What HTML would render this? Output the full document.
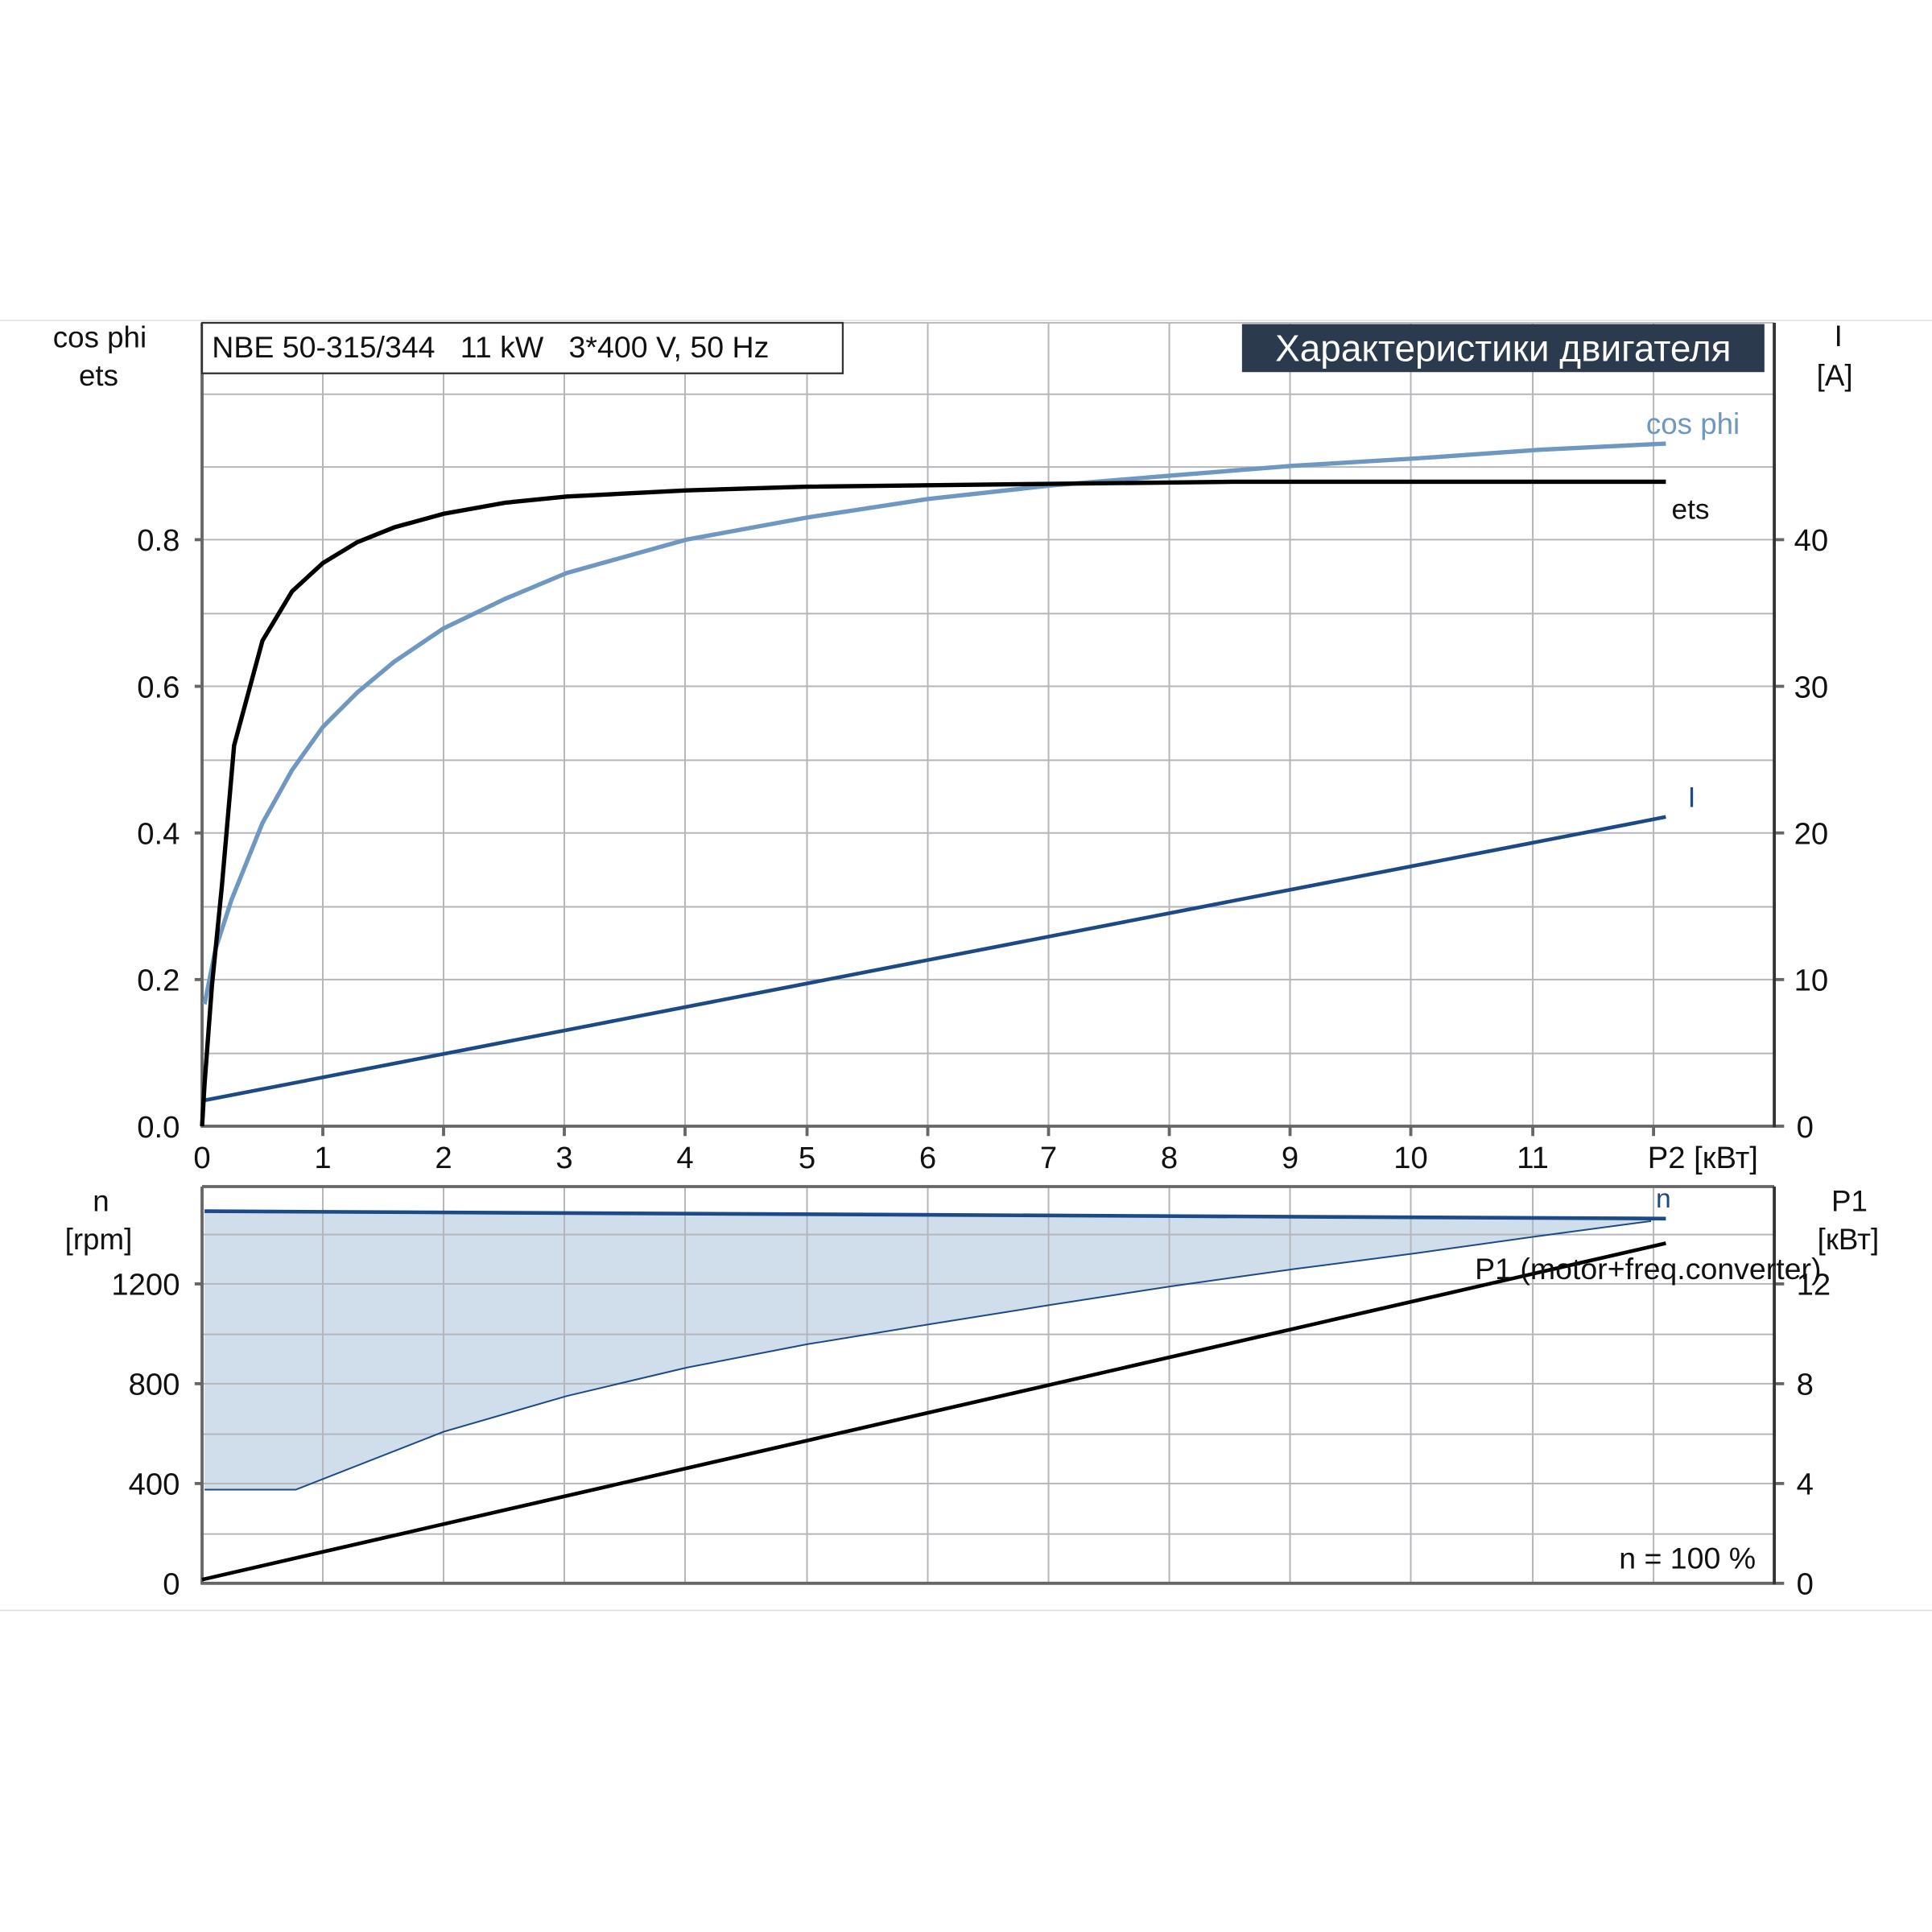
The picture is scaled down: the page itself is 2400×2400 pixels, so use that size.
<!DOCTYPE html>
<html><head><meta charset="utf-8"><style>html,body{margin:0;padding:0;background:#fff}svg{display:block}text{white-space:pre}</style></head><body>
<svg width="2400" height="2400" viewBox="0 0 1568 1568" xmlns="http://www.w3.org/2000/svg" font-family="Liberation Sans, DejaVu Sans, sans-serif" xml:space="preserve">
<rect width="1568" height="1568" fill="#fff"/>
<line x1="0" y1="260" x2="1568" y2="260" stroke="#ddd" stroke-width="1"/>
<line x1="0" y1="1307" x2="1568" y2="1307" stroke="#ddd" stroke-width="1"/>
<g stroke="#b4b6bc" stroke-width="1.3">
<line x1="262" y1="262" x2="262" y2="914"/><line x1="360" y1="262" x2="360" y2="914"/><line x1="458" y1="262" x2="458" y2="914"/><line x1="556" y1="262" x2="556" y2="914"/><line x1="655" y1="262" x2="655" y2="914"/><line x1="753" y1="262" x2="753" y2="914"/><line x1="851" y1="262" x2="851" y2="914"/><line x1="949" y1="262" x2="949" y2="914"/><line x1="1047" y1="262" x2="1047" y2="914"/><line x1="1145" y1="262" x2="1145" y2="914"/><line x1="1244" y1="262" x2="1244" y2="914"/><line x1="1342" y1="262" x2="1342" y2="914"/>
<line x1="164" y1="855" x2="1440" y2="855"/><line x1="164" y1="795" x2="1440" y2="795"/><line x1="164" y1="736" x2="1440" y2="736"/><line x1="164" y1="676" x2="1440" y2="676"/><line x1="164" y1="617" x2="1440" y2="617"/><line x1="164" y1="557" x2="1440" y2="557"/><line x1="164" y1="498" x2="1440" y2="498"/><line x1="164" y1="438" x2="1440" y2="438"/><line x1="164" y1="379" x2="1440" y2="379"/><line x1="164" y1="320" x2="1440" y2="320"/>
</g>
<line x1="164" y1="262" x2="1440" y2="262" stroke="#bbb" stroke-width="1.3"/>
<g stroke="#666" stroke-width="2.5">
<line x1="164" y1="262" x2="164" y2="915"/><line x1="163" y1="914" x2="1440" y2="914"/>
<line x1="158" y1="438" x2="164" y2="438"/><line x1="158" y1="557" x2="164" y2="557"/><line x1="158" y1="676" x2="164" y2="676"/><line x1="158" y1="795" x2="164" y2="795"/>
<line x1="262" y1="914" x2="262" y2="922"/><line x1="360" y1="914" x2="360" y2="922"/><line x1="458" y1="914" x2="458" y2="922"/><line x1="556" y1="914" x2="556" y2="922"/><line x1="655" y1="914" x2="655" y2="922"/><line x1="753" y1="914" x2="753" y2="922"/><line x1="851" y1="914" x2="851" y2="922"/><line x1="949" y1="914" x2="949" y2="922"/><line x1="1047" y1="914" x2="1047" y2="922"/><line x1="1145" y1="914" x2="1145" y2="922"/><line x1="1244" y1="914" x2="1244" y2="922"/><line x1="1342" y1="914" x2="1342" y2="922"/>
<line x1="1440" y1="438" x2="1448" y2="438"/><line x1="1440" y1="557" x2="1448" y2="557"/><line x1="1440" y1="676" x2="1448" y2="676"/><line x1="1440" y1="795" x2="1448" y2="795"/><line x1="1440" y1="914" x2="1448" y2="914"/>
</g>
<line x1="1440" y1="262" x2="1440" y2="915" stroke="#333" stroke-width="2.5"/>
<rect x="164" y="262" width="520" height="41" fill="#fff" stroke="#333" stroke-width="1.5"/>
<text x="172" y="290" font-size="24.5" fill="#111">NBE 50-315/344   11 kW   3*400 V, 50 Hz</text>
<rect x="1008" y="263" width="424" height="39" fill="#2b3a4c"/>
<text x="1220" y="293" font-size="30" fill="#fff" text-anchor="middle">Характеристики двигателя</text>
<g font-size="24" fill="#111" text-anchor="middle">
<text x="81" y="282">cos phi</text><text x="80" y="313">ets</text>
<text x="1492" y="281">I</text><text x="1489" y="313">[A]</text>
</g>
<g font-size="25" fill="#111" text-anchor="end">
<text x="146" y="447">0.8</text><text x="146" y="566">0.6</text><text x="146" y="685">0.4</text><text x="146" y="804">0.2</text><text x="146" y="923">0.0</text>
</g>
<g font-size="25" fill="#111">
<text x="1456" y="447">40</text><text x="1456" y="566">30</text><text x="1456" y="685">20</text><text x="1456" y="804">10</text><text x="1458" y="923">0</text>
</g>
<g font-size="25" fill="#111" text-anchor="middle">
<text x="164" y="948">0</text><text x="262" y="948">1</text><text x="360" y="948">2</text><text x="458" y="948">3</text><text x="556" y="948">4</text><text x="655" y="948">5</text><text x="753" y="948">6</text><text x="851" y="948">7</text><text x="949" y="948">8</text><text x="1047" y="948">9</text><text x="1145" y="948">10</text><text x="1244" y="948">11</text><text x="1382" y="948">P2 [кВт]</text>
</g>
<polyline fill="none" stroke="#1c4a86" stroke-width="3" points="166,893 1352,663"/>
<polyline fill="none" stroke="#6e97c2" stroke-width="3.5" points="166,815 175,770 188,730 213,668 237,625 262,590 290,562 320,537 360,510 410,486 460,465 557,438 655,420 753,405 853,394 950,386 1050,378 1150,372 1250,365 1352,360"/>
<polyline fill="none" stroke="#000" stroke-width="3.5" points="164,914 166,880 172,800 180,720 190,605 213,520 237,480 262,457 290,440 320,428 360,417 410,408 460,403 557,398 655,395 1000,391 1352,391"/>
<text x="1374" y="352" font-size="24" fill="#6e97c2" text-anchor="middle">cos phi</text>
<text x="1372" y="421" font-size="23" fill="#111" text-anchor="middle">ets</text>
<text x="1373" y="655" font-size="23" fill="#1c4a86" text-anchor="middle">I</text>
<polygon fill="#d0deec" points="166,983 1352,989 1340,991 1250,1003 1150,1017 1050,1030 950,1044 853,1059 753,1075 655,1091 557,1110 460,1133 360,1162 240,1209 166,1209"/>
<g stroke="#b4b6bc" stroke-width="1.3">
<line x1="262" y1="963" x2="262" y2="1285"/><line x1="360" y1="963" x2="360" y2="1285"/><line x1="458" y1="963" x2="458" y2="1285"/><line x1="556" y1="963" x2="556" y2="1285"/><line x1="655" y1="963" x2="655" y2="1285"/><line x1="753" y1="963" x2="753" y2="1285"/><line x1="851" y1="963" x2="851" y2="1285"/><line x1="949" y1="963" x2="949" y2="1285"/><line x1="1047" y1="963" x2="1047" y2="1285"/><line x1="1145" y1="963" x2="1145" y2="1285"/><line x1="1244" y1="963" x2="1244" y2="1285"/><line x1="1342" y1="963" x2="1342" y2="1285"/>
<line x1="164" y1="1245" x2="1440" y2="1245"/><line x1="164" y1="1204" x2="1440" y2="1204"/><line x1="164" y1="1164" x2="1440" y2="1164"/><line x1="164" y1="1123" x2="1440" y2="1123"/><line x1="164" y1="1083" x2="1440" y2="1083"/><line x1="164" y1="1042" x2="1440" y2="1042"/><line x1="164" y1="1002" x2="1440" y2="1002"/>
</g>
<g stroke="#666" stroke-width="2.5">
<line x1="164" y1="963" x2="1440" y2="963"/>
<line x1="164" y1="963" x2="164" y2="1286"/><line x1="163" y1="1285" x2="1440" y2="1285"/>
<line x1="158" y1="1042" x2="164" y2="1042"/><line x1="158" y1="1123" x2="164" y2="1123"/><line x1="158" y1="1204" x2="164" y2="1204"/>
<line x1="1440" y1="1042" x2="1448" y2="1042"/><line x1="1440" y1="1123" x2="1448" y2="1123"/><line x1="1440" y1="1204" x2="1448" y2="1204"/><line x1="1440" y1="1285" x2="1448" y2="1285"/>
</g>
<line x1="1440" y1="963" x2="1440" y2="1286" stroke="#333" stroke-width="2.5"/>
<polyline fill="none" stroke="#1c4a86" stroke-width="1.3" points="166,1209 240,1209 360,1162 460,1133 557,1110 655,1091 753,1075 853,1059 950,1044 1050,1030 1150,1017 1250,1003 1340,991"/>
<polyline fill="none" stroke="#1c4a86" stroke-width="3" points="166,983 1352,989"/>
<polyline fill="none" stroke="#000" stroke-width="3" points="164,1282 1352,1009"/>
<g font-size="24" fill="#111" text-anchor="middle">
<text x="82" y="983">n</text><text x="80" y="1014">[rpm]</text>
<text x="1501" y="983">P1</text><text x="1500" y="1014">[кВт]</text>
</g>
<g font-size="25" fill="#111" text-anchor="end">
<text x="146" y="1051">1200</text><text x="146" y="1132">800</text><text x="146" y="1213">400</text><text x="146" y="1294">0</text>
</g>
<g font-size="25" fill="#111">
<text x="1458" y="1051">12</text><text x="1458" y="1132">8</text><text x="1458" y="1213">4</text><text x="1458" y="1294">0</text>
</g>
<text x="1350" y="980" font-size="22" fill="#1c4a86" text-anchor="middle">n</text>
<text x="1197" y="1038" font-size="24.5" fill="#111">P1 (motor+freq.converter)</text>
<text x="1425" y="1273" font-size="24.5" fill="#111" text-anchor="end">n = 100 %</text>
</svg>
</body></html>
